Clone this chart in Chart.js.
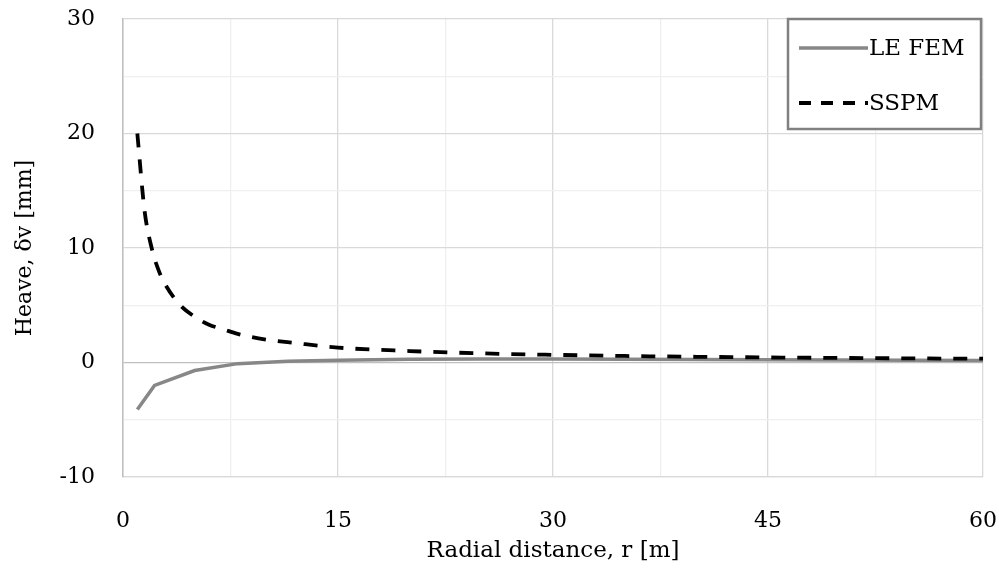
<!DOCTYPE html>
<html>
<head>
<meta charset="utf-8">
<script src="https://cdn.jsdelivr.net/npm/chart.js@4.4.1/dist/chart.umd.min.js"></script>
<style>
  html, body { margin: 0; padding: 0; background: #fff; }
  #wrap { width: 999px; height: 571px; position: relative; }
</style>
</head>
<body>
<div id="wrap"><canvas id="c" width="999" height="571"></canvas></div>
<script>
// ---- data ----
const leFemR   = [1, 2.2, 5, 8, 11.5, 15, 20, 25, 30, 35, 40, 45, 50, 55, 60];
const leFemV   = [-4.1, -2.0, -0.7, -0.1, 0.1, 0.2, 0.28, 0.3, 0.3, 0.28, 0.26, 0.24, 0.21, 0.19, 0.17];
const sspmR    = [1, 1.5, 2, 2.5, 3, 4, 5, 6, 7, 8, 10, 12, 15, 20, 25, 30, 35, 40, 45, 50, 55, 60];
const sspmV    = [20, 13.3, 10, 8, 6.7, 5, 4, 3.3, 2.9, 2.5, 2, 1.7, 1.3, 1.0, 0.8, 0.67, 0.57, 0.5, 0.44, 0.4, 0.36, 0.33];
const seriesNames = ['LE FEM', 'SSPM'];
const xTicks = [0, 15, 30, 45, 60];
const yTicks = [-10, 0, 10, 20, 30];
const xTitle = 'Radial distance, r [m]';
const yTitle = 'Heave, \u03B4v [mm]';

const FONT = "'DejaVu Serif', 'Liberation Serif', serif";

const pts = (xs, ys) => xs.map((x, i) => ({x: x, y: ys[i]}));

const legendBox = {
  id: 'legendBox',
  afterDraw(chart) {
    const ctx = chart.ctx;
    const x0 = 788, y0 = 19, w = 193, h = 110;
    ctx.save();
    ctx.fillStyle = '#fff';
    ctx.fillRect(x0, y0, w, h);
    ctx.strokeStyle = '#808080';
    ctx.lineWidth = 2.5;
    ctx.strokeRect(x0, y0, w, h);
    const rows = [48, 103];
    chart.data.datasets.forEach((ds, i) => {
      const y = rows[i];
      ctx.beginPath();
      ctx.strokeStyle = ds.borderColor;
      ctx.lineWidth = ds.borderWidth;
      ctx.setLineDash(i === 1 ? [12, 10] : []);
      ctx.moveTo(799, y);
      ctx.lineTo(868, y);
      ctx.stroke();
      ctx.setLineDash([]);
      ctx.fillStyle = '#000';
      ctx.font = "23px " + FONT;
      ctx.textBaseline = 'middle';
      ctx.textAlign = 'left';
      ctx.fillText(ds.label, 869, y + 1);
    });
    ctx.restore();
  }
};

new Chart(document.getElementById('c'), {
  type: 'scatter',
  data: {
    datasets: [
      { label: seriesNames[0], data: pts(leFemR, leFemV), showLine: true, borderColor: '#878787',
        borderWidth: 3.5, pointRadius: 0, fill: false, tension: 0, order: 2 },
      { label: seriesNames[1], data: pts(sspmR, sspmV), showLine: true, borderColor: '#000000',
        borderWidth: 3.8, borderDash: [14, 12], pointRadius: 0, fill: false, cubicInterpolationMode: 'monotone', order: 1 }
    ]
  },
  plugins: [legendBox],
  options: {
    responsive: false,
    animation: false,
    events: [],
    layout: { padding: { top: 19, right: 16, left: 0, bottom: 0 } },
    plugins: { legend: { display: false }, tooltip: { enabled: false } },
    scales: {
      x: {
        type: 'linear', min: 0, max: 60,
        afterBuildTicks: s => { const t = []; for (let v = 0; v <= 60; v += 7.5) t.push({value: v}); s.ticks = t; },
        afterFit: s => { s.height = 571 - 477; s.paddingLeft = 0; s.paddingRight = 0; },
        ticks: {
          autoSkip: false, maxRotation: 0, padding: 31, color: '#000',
          font: { family: FONT, size: 22 },
          callback: v => xTicks.includes(v) ? String(v) : ''
        },
        grid: {
          drawTicks: false,
          color: c => (c.tick && xTicks.includes(c.tick.value)) ? '#d9d9d9' : '#efefef',
          lineWidth: 1.3
        },
        border: { display: true, color: '#d9d9d9', width: 1.3 },
        title: { display: true, text: xTitle, color: '#000', font: { family: FONT, size: 23 }, padding: { top: 0, bottom: 6 } }
      },
      y: {
        type: 'linear', min: -10, max: 30,
        afterBuildTicks: s => { const t = []; for (let v = -10; v <= 30; v += 5) t.push({value: v}); s.ticks = t; },
        afterFit: s => { s.width = 123; s.paddingTop = 0; s.paddingBottom = 0; },
        ticks: {
          autoSkip: false, padding: 28, color: '#000',
          font: { family: FONT, size: 22 },
          callback: v => yTicks.includes(v) ? String(v) : ''
        },
        grid: {
          drawTicks: false,
          color: c => {
            if (!c.tick) return '#d9d9d9';
            if (c.tick.value === 0) return '#bfbfbf';
            return yTicks.includes(c.tick.value) ? '#d9d9d9' : '#efefef';
          },
          lineWidth: 1.3
        },
        border: { display: true, color: '#bfbfbf', width: 1.5 },
        title: { display: true, text: yTitle, color: '#000', font: { family: FONT, size: 22 }, padding: { top: 12, bottom: 0 } }
      }
    }
  }
});
</script>
</body>
</html>
